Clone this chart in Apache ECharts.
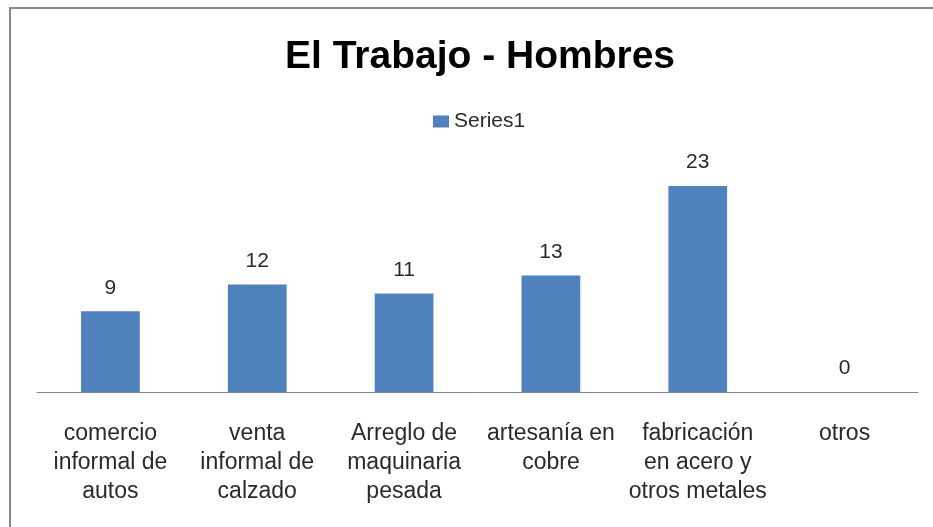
<!DOCTYPE html>
<html lang="es">
<head>
    <meta charset="UTF-8">
    <script src="https://cdn.jsdelivr.net/npm/echarts@6/dist/echarts.min.js"></script>
    <style>
        html, body {
            margin: 0;
            padding: 0;
            background: #ffffff;
            overflow: hidden;
        }

        #frame {
            position: absolute;
            left: 9px;
            top: 7px;
            width: 1000px;
            height: 600px;
            border-left: 2px solid #8a8a8a;
            border-top: 2px solid #8a8a8a;
        }

        #chart {
            position: absolute;
            left: 0;
            top: 0;
            width: 933px;
            height: 527px;
        }
    </style>
</head>
<body>
<div id="frame"></div>
<div id="chart"></div>
<script type="text/javascript">
    const categories = [
        'comercio\ninformal de\nautos',
        'venta\ninformal de\ncalzado',
        'Arreglo de\nmaquinaria\npesada',
        'artesanía en\ncobre',
        'fabricación\nen acero y\notros metales',
        'otros'
    ];
    const values = [9, 12, 11, 13, 23, 0];

    const chart = echarts.init(document.getElementById('chart'));

    chart.setOption({
        animation: false,
        textStyle: {
            fontFamily: 'Liberation Sans'
        },
        title: {
            text: 'El Trabajo - Hombres',
            left: 475,
            textAlign: 'center',
            top: 33,
            textStyle: {
                fontFamily: 'Liberation Sans',
                fontWeight: 'bold',
                fontSize: 39,
                color: '#000000'
            }
        },
        legend: {
            data: ['Series1'],
            top: 106,
            left: 428,
            itemWidth: 16,
            itemHeight: 12,
            itemGap: 6,
            icon: 'rect',
            textStyle: {
                fontSize: 21,
                color: '#2a2a2a'
            }
        },
        grid: {
            left: 37,
            right: 15,
            top: 168,
            bottom: 135
        },
        xAxis: {
            type: 'category',
            data: categories,
            axisLine: {
                lineStyle: {
                    color: '#868686',
                    width: 1
                }
            },
            axisTick: {show: false},
            axisLabel: {
                interval: 0,
                margin: 27,
                fontSize: 23,
                lineHeight: 29,
                color: '#2a2a2a'
            }
        },
        yAxis: {
            type: 'value',
            min: 0,
            max: 25,
            show: false,
            splitLine: {show: false}
        },
        series: [
            {
                name: 'Series1',
                type: 'bar',
                data: values,
                barWidth: '40%',
                itemStyle: {
                    color: '#4f81bd'
                },
                label: {
                    show: true,
                    position: 'top',
                    distance: 13,
                    fontSize: 21,
                    color: '#2a2a2a'
                }
            }
        ]
    });
</script>
</body>
</html>
